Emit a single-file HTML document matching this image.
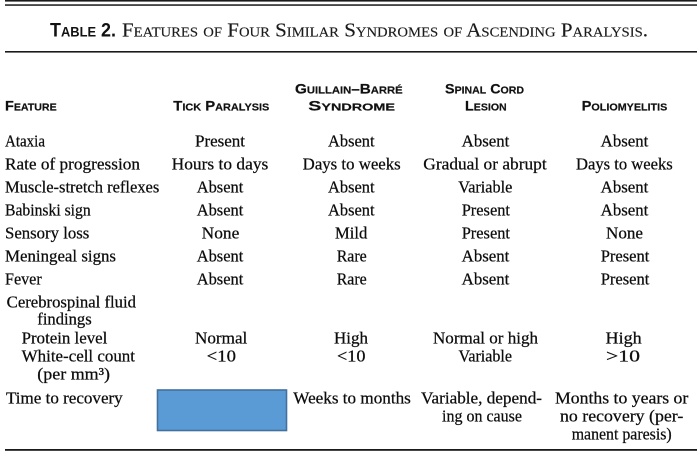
<!DOCTYPE html>
<html>
<head>
<meta charset="utf-8">
<style>
  html, body { margin:0; padding:0; background:#fff; }
  body { width:700px; height:458px; overflow:hidden; }
  svg { display:block; }
  .s { font-family:"Liberation Serif", "DejaVu Serif", serif; font-size:16.5px; fill:#0d0d0d; stroke:#0d0d0d; stroke-width:0.25px; }
  .h { font-family:"Liberation Sans", "DejaVu Sans", sans-serif; font-weight:bold; font-size:13.6px; font-variant:small-caps; fill:#111; stroke:#111; stroke-width:0.2px; }
  .tb { font-family:"Liberation Sans", "DejaVu Sans", sans-serif; font-weight:bold; font-size:19.5px; font-variant:small-caps; fill:#111; }
  .ts { font-family:"Liberation Serif", "DejaVu Serif", serif; font-size:20px; font-variant:small-caps; fill:#1a1a1a; stroke:#1a1a1a; stroke-width:0.15px; }
</style>
</head>
<body>
<svg width="700" height="458" viewBox="0 0 700 458" xmlns="http://www.w3.org/2000/svg">
  <rect x="0" y="0" width="700" height="458" fill="#fff"/>
  <!-- rules -->
  <rect x="5" y="0" width="692" height="1.6" fill="#1a1a1a"/>
  <rect x="5" y="4.3" width="692" height="1.5" fill="#1a1a1a"/>
  <rect x="5" y="51" width="692" height="1.6" fill="#1a1a1a"/>
  <rect x="5" y="449" width="692" height="1.8" fill="#1a1a1a"/>

  <!-- title -->
  <text class="tb" x="50" y="36.7" textLength="66" lengthAdjust="spacingAndGlyphs">Table 2.</text>
  <text class="ts" x="122" y="36.7" textLength="526" lengthAdjust="spacingAndGlyphs">Features of Four Similar Syndromes of Ascending Paralysis.</text>

  <!-- headers -->
  <text class="h" x="5" y="110.5" textLength="51.7" lengthAdjust="spacingAndGlyphs">Feature</text>
  <text class="h" x="173.3" y="110.5" textLength="96" lengthAdjust="spacingAndGlyphs">Tick Paralysis</text>
  <text class="h" x="295" y="93.5" textLength="107.7" lengthAdjust="spacingAndGlyphs">Guillain–Barré</text>
  <text class="h" x="308.3" y="110.5" textLength="86.7" lengthAdjust="spacingAndGlyphs">Syndrome</text>
  <text class="h" x="445" y="93.5" textLength="79" lengthAdjust="spacingAndGlyphs">Spinal Cord</text>
  <text class="h" x="465" y="110.5" textLength="41.7" lengthAdjust="spacingAndGlyphs">Lesion</text>
  <text class="h" x="581.7" y="110.5" textLength="85.6" lengthAdjust="spacingAndGlyphs">Poliomyelitis</text>

  <!-- feature column -->
  <text class="s" x="5" y="146.5" textLength="40" lengthAdjust="spacingAndGlyphs">Ataxia</text>
  <text class="s" x="5" y="169.5" textLength="135" lengthAdjust="spacingAndGlyphs">Rate of progression</text>
  <text class="s" x="5" y="192.5" textLength="154.3" lengthAdjust="spacingAndGlyphs">Muscle-stretch reflexes</text>
  <text class="s" x="5" y="215.5" textLength="85.7" lengthAdjust="spacingAndGlyphs">Babinski sign</text>
  <text class="s" x="5" y="238.5" textLength="84.3" lengthAdjust="spacingAndGlyphs">Sensory loss</text>
  <text class="s" x="5" y="261.5" textLength="111" lengthAdjust="spacingAndGlyphs">Meningeal signs</text>
  <text class="s" x="5" y="284.5" textLength="36.7" lengthAdjust="spacingAndGlyphs">Fever</text>
  <text class="s" x="6.7" y="307.3" textLength="129.3" lengthAdjust="spacingAndGlyphs">Cerebrospinal fluid</text>
  <text class="s" x="37.3" y="324.5" textLength="54.4" lengthAdjust="spacingAndGlyphs">findings</text>
  <text class="s" x="21.7" y="343.3" textLength="85.6" lengthAdjust="spacingAndGlyphs">Protein level</text>
  <text class="s" x="21.7" y="361.7" textLength="113.3" lengthAdjust="spacingAndGlyphs">White-cell count</text>
  <text class="s" x="37.3" y="379.3" textLength="72.7" lengthAdjust="spacingAndGlyphs">(per mm³)</text>
  <text class="s" x="6" y="403.3" textLength="116.7" lengthAdjust="spacingAndGlyphs">Time to recovery</text>

  <!-- Tick paralysis column -->
  <text class="s" x="195" y="146.5" textLength="50" lengthAdjust="spacingAndGlyphs">Present</text>
  <text class="s" x="171.7" y="169.5" textLength="96.6" lengthAdjust="spacingAndGlyphs">Hours to days</text>
  <text class="s" x="196.7" y="192.5" textLength="46.6" lengthAdjust="spacingAndGlyphs">Absent</text>
  <text class="s" x="196.7" y="215.5" textLength="46.6" lengthAdjust="spacingAndGlyphs">Absent</text>
  <text class="s" x="201.7" y="238.5" textLength="37.6" lengthAdjust="spacingAndGlyphs">None</text>
  <text class="s" x="196.7" y="261.5" textLength="46.6" lengthAdjust="spacingAndGlyphs">Absent</text>
  <text class="s" x="196.7" y="284.5" textLength="46.6" lengthAdjust="spacingAndGlyphs">Absent</text>
  <text class="s" x="195" y="343.3" textLength="52.3" lengthAdjust="spacingAndGlyphs">Normal</text>
  <text class="s" x="206.7" y="361.7" textLength="29.3" lengthAdjust="spacingAndGlyphs">&lt;10</text>
  <rect x="157.5" y="390" width="129" height="40.5" fill="#5b9bd5" stroke="#41719c" stroke-width="1.6"/>

  <!-- Guillain-Barre column -->
  <text class="s" x="328" y="146.5" textLength="46.6" lengthAdjust="spacingAndGlyphs">Absent</text>
  <text class="s" x="302.7" y="169.5" textLength="98" lengthAdjust="spacingAndGlyphs">Days to weeks</text>
  <text class="s" x="328" y="192.5" textLength="46.6" lengthAdjust="spacingAndGlyphs">Absent</text>
  <text class="s" x="328" y="215.5" textLength="46.6" lengthAdjust="spacingAndGlyphs">Absent</text>
  <text class="s" x="335" y="238.5" textLength="32.3" lengthAdjust="spacingAndGlyphs">Mild</text>
  <text class="s" x="336.7" y="261.5" textLength="30" lengthAdjust="spacingAndGlyphs">Rare</text>
  <text class="s" x="336.7" y="284.5" textLength="30" lengthAdjust="spacingAndGlyphs">Rare</text>
  <text class="s" x="334" y="343.3" textLength="34" lengthAdjust="spacingAndGlyphs">High</text>
  <text class="s" x="337" y="361.7" textLength="28.5" lengthAdjust="spacingAndGlyphs">&lt;10</text>
  <text class="s" x="293.3" y="403.3" textLength="117.5" lengthAdjust="spacingAndGlyphs">Weeks to months</text>

  <!-- Spinal cord column -->
  <text class="s" x="461.7" y="146.5" textLength="47.6" lengthAdjust="spacingAndGlyphs">Absent</text>
  <text class="s" x="423.3" y="169.5" textLength="123.4" lengthAdjust="spacingAndGlyphs">Gradual or abrupt</text>
  <text class="s" x="458.3" y="192.5" textLength="54" lengthAdjust="spacingAndGlyphs">Variable</text>
  <text class="s" x="461.7" y="215.5" textLength="48.3" lengthAdjust="spacingAndGlyphs">Present</text>
  <text class="s" x="461.7" y="238.5" textLength="48.3" lengthAdjust="spacingAndGlyphs">Present</text>
  <text class="s" x="461.7" y="261.5" textLength="47.6" lengthAdjust="spacingAndGlyphs">Absent</text>
  <text class="s" x="461.7" y="284.5" textLength="47.6" lengthAdjust="spacingAndGlyphs">Absent</text>
  <text class="s" x="433" y="343.3" textLength="105" lengthAdjust="spacingAndGlyphs">Normal or high</text>
  <text class="s" x="458.5" y="361.7" textLength="53.5" lengthAdjust="spacingAndGlyphs">Variable</text>
  <text class="s" x="421" y="403.3" textLength="121" lengthAdjust="spacingAndGlyphs">Variable, depend-</text>
  <text class="s" x="442" y="421.3" textLength="80" lengthAdjust="spacingAndGlyphs">ing on cause</text>

  <!-- Poliomyelitis column -->
  <text class="s" x="600.7" y="146.5" textLength="47.6" lengthAdjust="spacingAndGlyphs">Absent</text>
  <text class="s" x="576" y="169.5" textLength="96.7" lengthAdjust="spacingAndGlyphs">Days to weeks</text>
  <text class="s" x="600.7" y="192.5" textLength="47.6" lengthAdjust="spacingAndGlyphs">Absent</text>
  <text class="s" x="600.7" y="215.5" textLength="47.6" lengthAdjust="spacingAndGlyphs">Absent</text>
  <text class="s" x="606" y="238.5" textLength="37" lengthAdjust="spacingAndGlyphs">None</text>
  <text class="s" x="600.7" y="261.5" textLength="48.6" lengthAdjust="spacingAndGlyphs">Present</text>
  <text class="s" x="600.7" y="284.5" textLength="48.6" lengthAdjust="spacingAndGlyphs">Present</text>
  <text class="s" x="605.5" y="343.3" textLength="36.2" lengthAdjust="spacingAndGlyphs">High</text>
  <text class="s" x="606" y="361.7" textLength="34" lengthAdjust="spacingAndGlyphs">&gt;10</text>
  <text class="s" x="555" y="403.3" textLength="133.3" lengthAdjust="spacingAndGlyphs">Months to years or</text>
  <text class="s" x="560" y="421.3" textLength="123.3" lengthAdjust="spacingAndGlyphs">no recovery (per-</text>
  <text class="s" x="571.7" y="439.3" textLength="100" lengthAdjust="spacingAndGlyphs">manent paresis)</text>
</svg>
</body>
</html>
